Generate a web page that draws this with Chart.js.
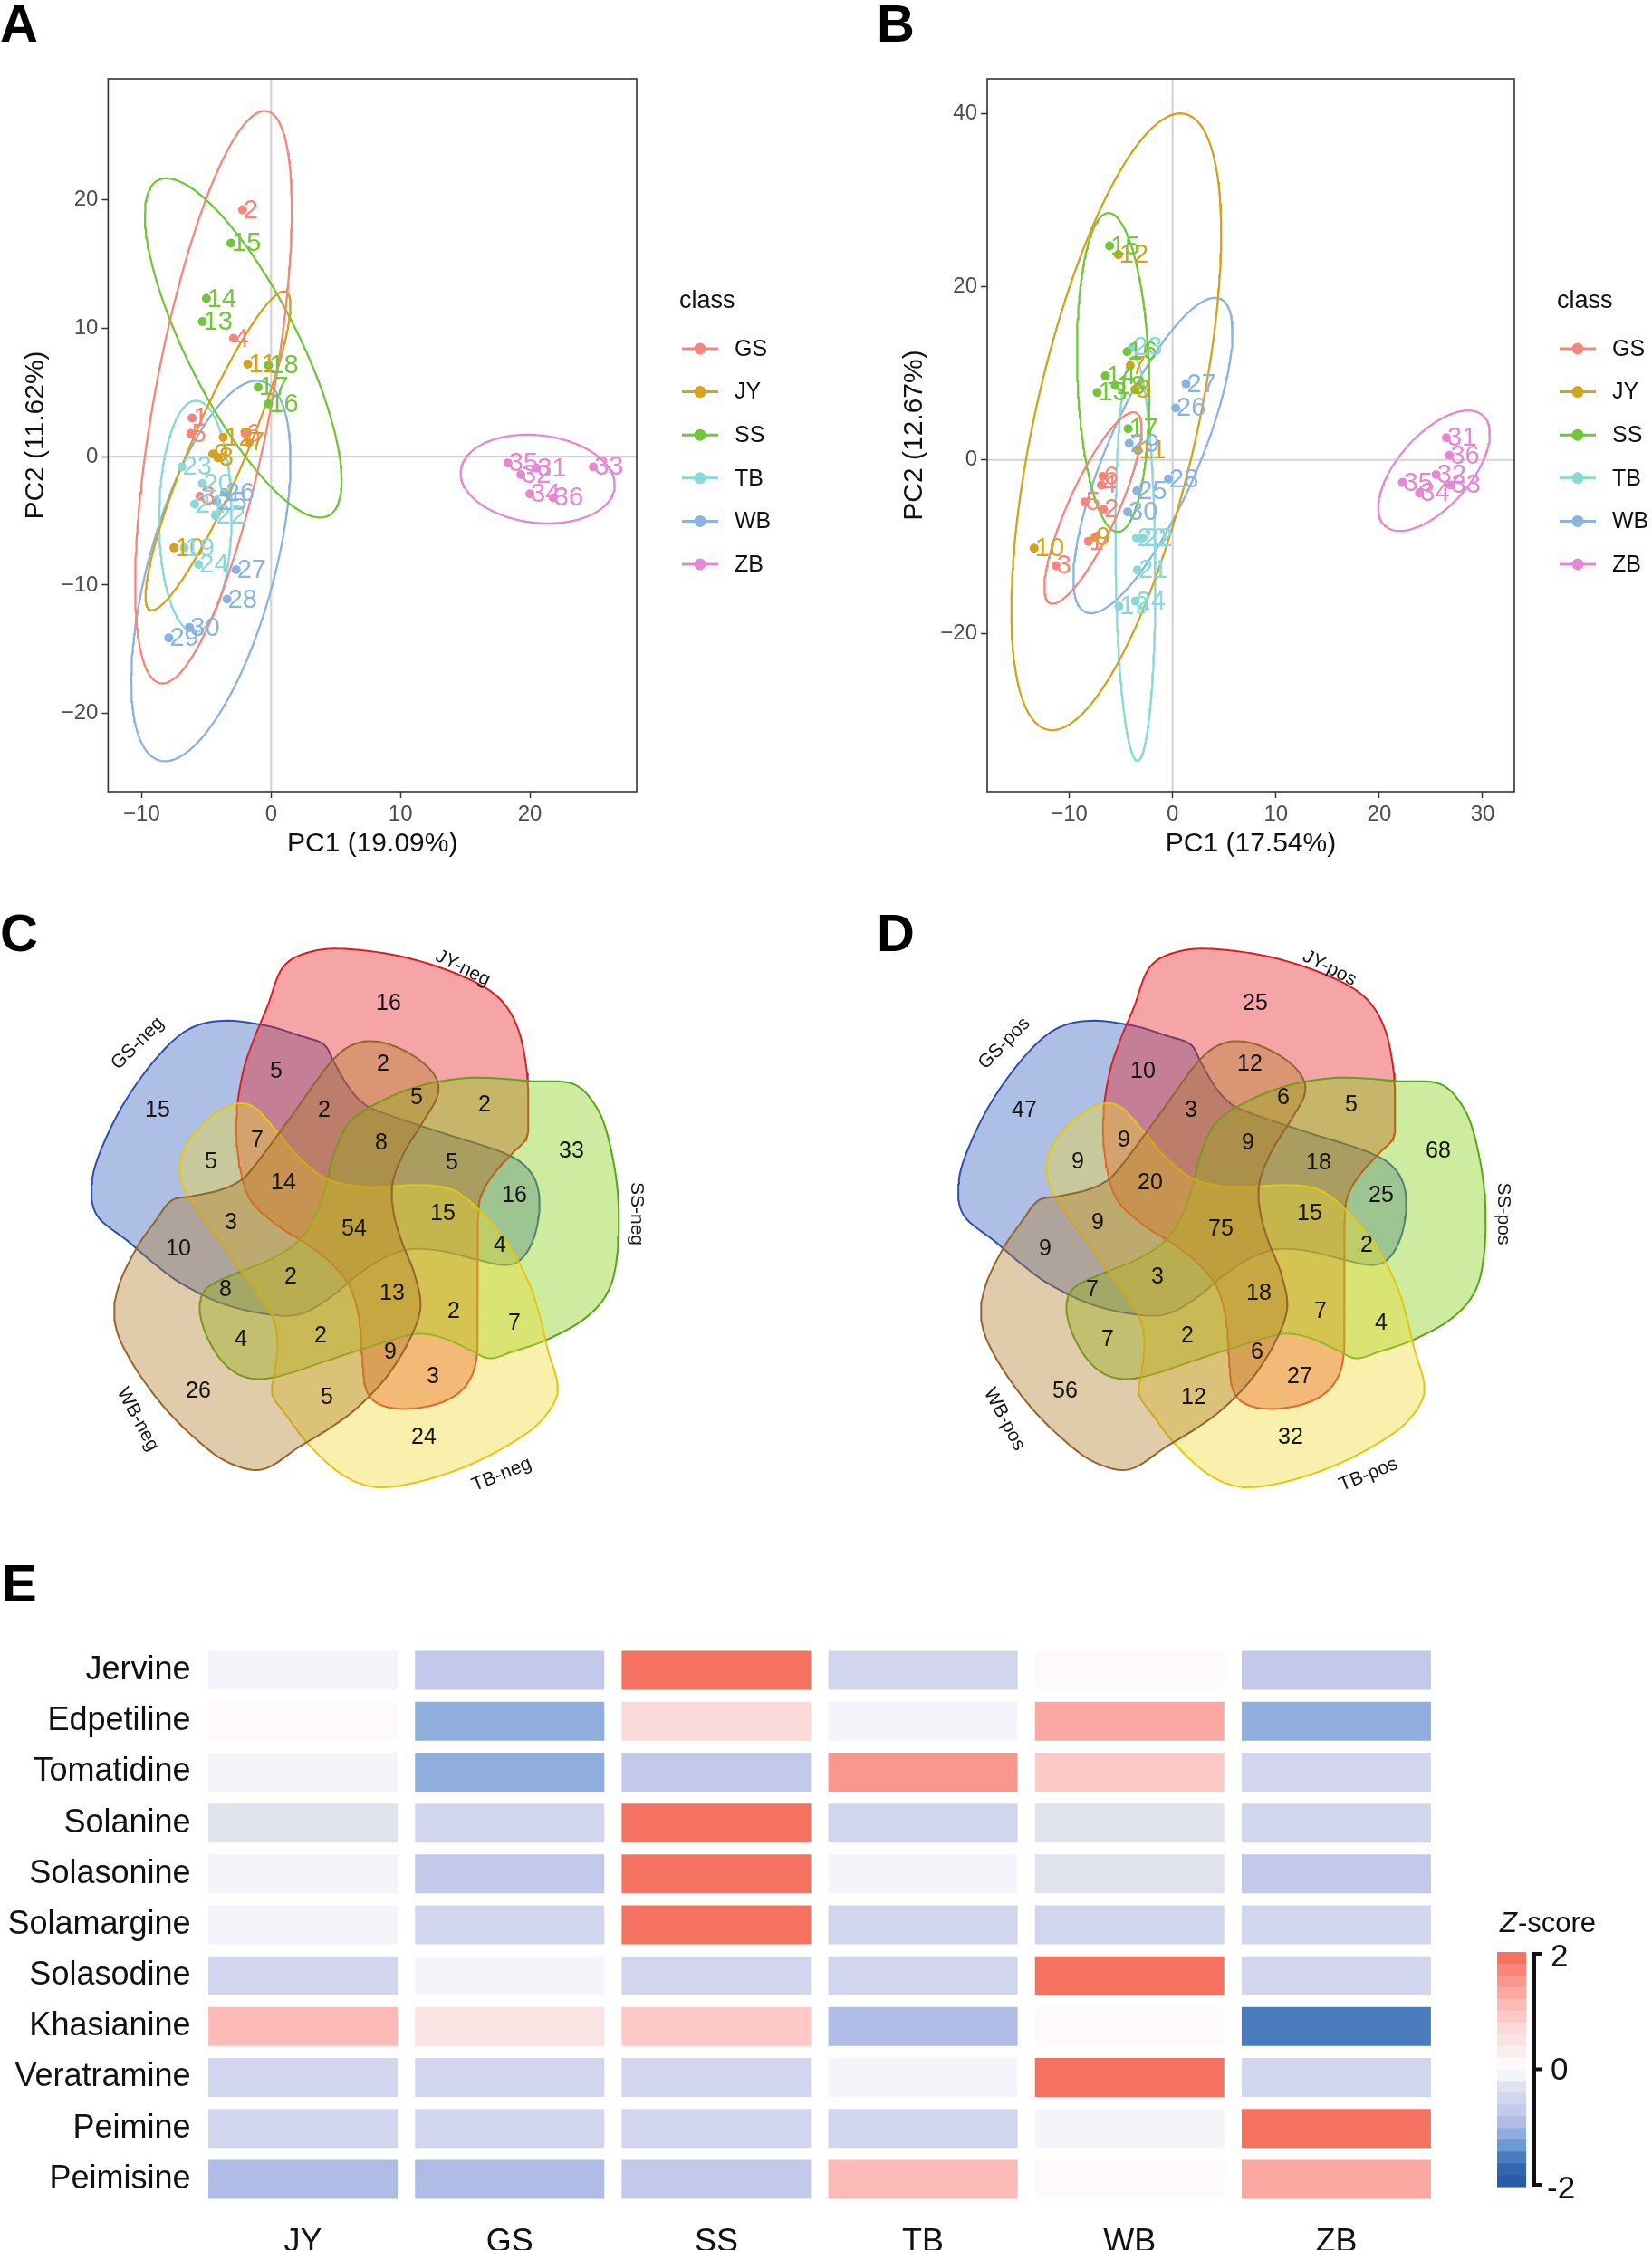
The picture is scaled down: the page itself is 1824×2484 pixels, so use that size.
<!DOCTYPE html>
<html><head><meta charset="utf-8">
<script src="https://cdn.jsdelivr.net/npm/chart.js@4.4.1/dist/chart.umd.min.js"></script>
<style>
html,body{margin:0;padding:0;background:#fff}
body{width:1824px;height:2484px;position:relative;overflow:hidden}
canvas{position:absolute}
.lt{position:absolute;font:bold 58px 'Liberation Sans',Arial,sans-serif;line-height:1;color:#000;z-index:5}
</style></head><body>
<div class="lt" style="left:0;top:-3px">A</div>
<div class="lt" style="left:968px;top:-3px">B</div>
<div class="lt" style="left:0;top:1001px">C</div>
<div class="lt" style="left:968px;top:1001px">D</div>
<div class="lt" style="left:2px;top:1719px">E</div>
<canvas id="cA" width="960" height="1000" style="left:0;top:0"></canvas>
<canvas id="cB" width="864" height="1000" style="left:960px;top:0"></canvas>
<canvas id="cC" width="960" height="700" style="left:0;top:1000px"></canvas>
<canvas id="cD" width="864" height="700" style="left:960px;top:1000px"></canvas>
<canvas id="cE" width="1824" height="764" style="left:0;top:1720px"></canvas>
<script>
const FF = "'Liberation Sans', Arial, Helvetica, sans-serif";
Chart.defaults.font.family = FF;
Chart.defaults.color = '#111';

/* ---------------- PCA data ---------------- */
const classes = ['GS','JY','SS','TB','WB','ZB'];
const sampleId = [1,2,3,4,5,6,7,8,9,10,11,12,13,14,15,16,17,18,19,20,21,22,23,24,25,26,27,28,29,30,31,32,33,34,35,36];
const sampleClass = ['GS','GS','GS','GS','GS','GS','JY','JY','JY','JY','JY','JY','SS','SS','SS','SS','SS','SS',
                     'TB','TB','TB','TB','TB','TB','WB','WB','WB','WB','WB','WB','ZB','ZB','ZB','ZB','ZB','ZB'];
// Panel A (negative mode)
const pcaA_PC1 = [-6.1,-2.2,-5.5,-2.9,-6.2,-2.0, -1.7,-4.1,-4.5,-7.5,-1.8,-3.7, -5.3,-5.0,-3.1,-0.2,-1.0,-0.2,
                  -6.7,-5.3,-5.9,-4.3,-6.9,-5.6, -4.2,-3.6,-2.7,-3.4,-7.9,-6.3, 20.5,19.3,24.9,20.0,18.3,21.8];
const pcaA_PC2 = [3.0,19.2,-3.1,9.2,1.8,1.8, 1.1,-0.1,0.2,-7.1,7.2,1.5, 10.5,12.3,16.6,4.1,5.4,7.1,
                  -7.1,-2.1,-3.7,-4.6,-0.8,-8.4, -3.5,-2.8,-8.8,-11.1,-14.1,-13.3, -0.9,-1.4,-0.8,-2.9,-0.5,-3.2];
// Panel B (positive mode)
const pcaB_PC1 = [-8.15,-6.7,-11.3,-6.9,-8.5,-6.75, -4.1,-3.65,-7.5,-13.4,-3.35,-5.25, -7.3,-6.5,-6.1,-4.4,-4.3,-5.55,
                  -5.2,-3.5,-3.4,-2.9,-3.9,-3.6, -3.45,0.3,1.3,-0.4,-4.2,-4.35, 26.5,25.5,26.9,23.9,22.25,26.8];
const pcaB_PC2 = [-9.4,-5.7,-12.2,-2.9,-4.85,-1.9, 10.9,8.1,-8.9,-10.2,1.1,23.7, 7.8,9.7,24.7,12.5,3.6,8.6,
                  -16.9,-9.0,-12.7,-9.0,13.0,-16.3, -3.56,6.0,8.8,-2.2,1.9,-6.0, 2.55,-1.7,-2.9,-3.8,-2.6,0.53];
// confidence ellipses: [centre x, centre y, x half-extent, y half-extent, x offset of top point]
const ellA = [[-4.45,4.62,6.05,22.27,3.95],[-4.1,0.45,5.6,12.4,5.1],[-2.15,8.45,7.6,13.2,-5.94],
              [-5.85,-4.66,2.8,9.0,0.05],[-4.65,-8.9,6.15,14.8,3.55],[20.6,-1.75,5.95,3.45,-0.8]];
const ellB = [[-7.7,-5.55,4.7,11.05,3.9],[-5.45,4.4,10.15,35.6,6.2],[-5.75,10.1,3.5,18.4,-0.45],
              [-3.6,-11.4,1.93,23.3,-0.2],[-1.9,0.5,7.7,18.2,6.0],[25.3,-1.25,5.4,6.95,3.3]];
const pcaColors = ['#F8847C','#D4A21C','#72C63A','#8AD9D9','#8AB3E2','#E587D3'];

/* ---------------- Venn data ---------------- */
const vennSets = ['GS','JY','SS','TB','WB'];
const vennNamesC = ['GS-neg','JY-neg','SS-neg','TB-neg','WB-neg'];
const vennNamesD = ['GS-pos','JY-pos','SS-pos','TB-pos','WB-pos'];
const vennCountsC = [16,15,5,2,2,5,2,7,5,8,33,5,14,16,15,3,54,4,10,2,8,13,2,7,4,2,9,3,26,5,24];
const vennCountsD = [25,47,10,12,3,6,5,9,9,9,68,18,20,25,15,9,75,2,9,3,7,18,7,4,7,2,6,27,56,12,32];
// layout: label anchor of each region (offset from diagram centre, y up)
const vennLabelPos = [[37,247],[-218,129],[-87,172],[31,180],[-34,129],[68,143],[143,135],[-108,96],[-159,72],[29,93],
  [239,84],[107,71],[-79,49],[176,35],[97,15],[-137,5],[-1,-2],[160,-20],[-195,-24],[-71,-55],[-143,-69],[41,-73],
  [109,-93],[176,-106],[-126,-124],[-38,-120],[39,-138],[86,-165],[-173,-181],[-31,-188],[76,-232]];
const vennNamePos = [[-240,203,-45],[119,286,27],[311,15,90],[162,-273,-22],[-240,-212,62]];
// outline template of one set (the JY shape); the others are the same shape turned by 72 degrees
const vennTemplate = [[-46,305],[-5,307],[56,298],[117,278],[158,254],[180,219],[190,170],[191,129],[190,100],[174,82],
  [154,60],[141,39],[136,15],[135,-60],[135,-136],[125,-171],[101,-191],[64,-200],[31,-197],[13,-181],[8,-144],[5,-104],
  [-5,-67],[-26,-40],[-54,-18],[-87,3],[-116,31],[-128,72],[-131,121],[-124,170],[-112,207],[-97,243],[-79,288]];
const vennRot = [72,0,-72,-144,144];
const vennScale = [0.955,1.0,0.965,0.96,0.955];
const vennFill = ['rgba(52,95,192,0.4)','rgba(230,30,30,0.4)','rgba(130,207,17,0.4)','rgba(237,217,47,0.4)','rgba(177,125,42,0.4)'];
const vennStroke = ['#2F4FA8','#D61F26','#57A619','#E2C812','#94652C'];

/* ---------------- Heatmap data ---------------- */
const hmRows = ['Jervine','Edpetiline','Tomatidine','Solanine','Solasonine','Solamargine','Solasodine','Khasianine','Veratramine','Peimine','Peimisine'];
const hmCols = ['JY','GS','SS','TB','WB','ZB'];
const z_JY = [-0.1,0.05,-0.1,-0.3,-0.1,-0.1,-0.5,1.05,-0.5,-0.5,-0.9];
const z_GS = [-0.7,-1.1,-1.1,-0.5,-0.7,-0.5,-0.1,0.5,-0.5,-0.5,-0.9];
const z_SS = [1.9,0.7,-0.7,1.9,1.9,1.9,-0.5,0.9,-0.5,-0.5,-0.7];
const z_TB = [-0.5,-0.1,1.5,-0.5,-0.1,-0.5,-0.5,-0.9,-0.1,-0.5,1.05];
const z_WB = [0.05,1.3,0.9,-0.3,-0.3,-0.5,1.9,0.05,1.9,-0.1,0.05];
const z_ZB = [-0.7,-1.1,-0.5,-0.5,-0.7,-0.5,-0.5,-1.5,-0.5,1.9,1.3];
const zPalette = ['#2A5DA8','#3366B1','#4C7CC0','#6C9BD2','#8FAEDD','#AEBCE6','#C2C9EA','#D2D5EE','#E0E2EE','#F4F4FA',
                  '#FDFAF9','#F9EEEE','#F9E3E3','#FCDADA','#FEC8C6','#FDBBB8','#FBA7A2','#F9978F','#F78579','#F4725F'];

/* ---------------- helpers ---------------- */
const fmtTick = v => v < 0 ? '\u2212' + Math.abs(v) : String(v);
function zColor(z){ let b = Math.floor((z + 2) / 0.2 + 1e-9); b = Math.max(0, Math.min(zPalette.length - 1, b)); return zPalette[b]; }
function smoothClosed(P, k){
  const out = [], n = P.length;
  for (let i = 0; i < n; i++){
    const p0 = P[(i-1+n)%n], p1 = P[i], p2 = P[(i+1)%n], p3 = P[(i+2)%n];
    for (let s = 0; s < k; s++){
      const t = s/k, t2 = t*t, t3 = t2*t;
      const f = (a,b,c,d) => 0.5*((2*b)+(-a+c)*t+(2*a-5*b+4*c-d)*t2+(-a+3*b-3*c+d)*t3);
      out.push([f(p0[0],p1[0],p2[0],p3[0]), f(p0[1],p1[1],p2[1],p3[1])]);
    }
  }
  out.push(out[0]);
  return out;
}

/* ---------------- PCA ---------------- */
const pcaPlugin = {
  id: 'pcaDecor',
  beforeDatasetsDraw(chart){
    const {ctx, chartArea: a, scales: {x, y}} = chart;
    ctx.save();
    ctx.beginPath(); ctx.rect(a.left, a.top, a.right - a.left, a.bottom - a.top); ctx.clip();
    ctx.strokeStyle = '#D3D3D3'; ctx.lineWidth = 2.2;
    const x0 = x.getPixelForValue(0), y0 = y.getPixelForValue(0);
    ctx.beginPath(); ctx.moveTo(x0, a.top); ctx.lineTo(x0, a.bottom); ctx.moveTo(a.left, y0); ctx.lineTo(a.right, y0); ctx.stroke();
    ctx.restore();
  },
  afterDatasetsDraw(chart){
    const {ctx, chartArea: a} = chart;
    ctx.save();
    ctx.font = '29px ' + FF; ctx.textAlign = 'left'; ctx.textBaseline = 'middle';
    chart.data.datasets.forEach((ds, i) => {
      if (ds.isEllipse) return;
      const meta = chart.getDatasetMeta(i);
      ctx.fillStyle = ds.backgroundColor;
      meta.data.forEach((el, j) => ctx.fillText(String(ds.ids[j]), el.x + 1, el.y + 1));
    });
    ctx.strokeStyle = '#333'; ctx.lineWidth = 1.6;
    ctx.strokeRect(a.left, a.top, a.right - a.left, a.bottom - a.top);
    ctx.restore();
  },
  afterDraw(chart){
    const o = chart.options.plugins.pcaDecor; const ctx = chart.ctx;
    ctx.save();
    ctx.fillStyle = '#111'; ctx.textAlign = 'left'; ctx.textBaseline = 'middle';
    ctx.font = '27px ' + FF; ctx.fillText('class', o.lx, 333);
    ctx.font = '25px ' + FF;
    classes.forEach((c, k) => {
      const yy = 385 + k * 47.6;
      ctx.strokeStyle = pcaColors[k]; ctx.lineWidth = 3;
      ctx.beginPath(); ctx.moveTo(o.lx + 3, yy); ctx.lineTo(o.lx + 43, yy); ctx.stroke();
      ctx.fillStyle = pcaColors[k]; ctx.beginPath(); ctx.arc(o.lx + 23, yy, 6.5, 0, 2*Math.PI); ctx.fill();
      ctx.fillStyle = '#111'; ctx.fillText(c, o.lx + 61, yy + 1);
    });
    ctx.restore();
  }
};

function pcaChart(id, pc1, pc2, ell, o){
  const datasets = [];
  classes.forEach((c, k) => {
    const idx = sampleClass.map((v, i) => v === c ? i : -1).filter(i => i >= 0);
    datasets.push({type:'scatter', label:c, data: idx.map(i => ({x: pc1[i], y: pc2[i]})), ids: idx.map(i => sampleId[i]),
      backgroundColor: pcaColors[k], borderColor: pcaColors[k], pointRadius: 5, pointHoverRadius: 5, pointBorderWidth: 0, order: 1});
  });
  classes.forEach((c, k) => {
    const [cx, cy, hw, hh, xt] = ell[k];
    const b = Math.sqrt(Math.max(hw*hw - xt*xt, 0));
    const pts = [];
    for (let s = 0; s <= 240; s++){ const t = 2*Math.PI*s/240; pts.push({x: cx + xt*Math.cos(t) + b*Math.sin(t), y: cy + hh*Math.cos(t)}); }
    datasets.push({type:'scatter', showLine:true, data: pts, borderColor: pcaColors[k], backgroundColor: pcaColors[k],
      borderWidth: 2.3, pointRadius: 0, pointHoverRadius: 0, fill: false, order: 2, isEllipse: true});
  });
  const axisCommon = {
    grid: {display:true, drawOnChartArea:false, drawTicks:true, tickLength:7, tickColor:'#333', tickWidth:1.5},
    border: {display:false}
  };
  return new Chart(document.getElementById(id), {
    type: 'scatter',
    data: {datasets},
    options: {
      responsive:false, animation:false, events:[],
      layout: {padding: {left:0, top:87, right:o.rp, bottom:46.6}},
      plugins: {legend:{display:false}, tooltip:{enabled:false}, pcaDecor:{lx:o.lx}},
      scales: {
        x: Object.assign({type:'linear', position:'bottom', min:o.xr[0], max:o.xr[1],
          afterBuildTicks: s => { s.ticks = o.xt.map(v => ({value:v})); },
          afterFit: s => { s.height = 79.4; },
          ticks: {callback: fmtTick, font:{size:24}, color:'#4D4D4D', padding:4, autoSkip:false, maxRotation:0},
          title: {display:true, text:o.xTitle, font:{size:30}, color:'#111', padding:{top:0, bottom:4}}}, axisCommon),
        y: Object.assign({type:'linear', position:'left', min:o.yr[0], max:o.yr[1],
          afterBuildTicks: s => { s.ticks = o.yt.map(v => ({value:v})); },
          afterFit: s => { s.width = o.yw; },
          ticks: {callback: fmtTick, font:{size:24}, color:'#4D4D4D', padding:4, autoSkip:false},
          title: {display:true, text:o.yTitle, font:{size:30}, color:'#111', padding:{top:o.ytp, bottom:0}}}, axisCommon)
      }
    },
    plugins: [pcaPlugin]
  });
}

pcaChart('cA', pcaA_PC1, pcaA_PC2, ellA, {xr:[-12.59, 28.25], yr:[-26.07, 29.39], xt:[-10,0,10,20], yt:[-20,-10,0,10,20],
  xTitle:'PC1 (19.09%)', yTitle:'PC2 (11.62%)', rp:257, yw:119.4, ytp:22, lx:750});
pcaChart('cB', pcaB_PC1, pcaB_PC2, ellB, {xr:[-17.94, 33.07], yr:[-38.3, 44.0], xt:[-10,0,10,20,30], yt:[-20,0,20,40],
  xTitle:'PC1 (17.54%)', yTitle:'PC2 (12.67%)', rp:152, yw:130, ytp:31.5, lx:759});

/* ---------------- Venn ---------------- */
const vennPlugin = {
  id: 'vennText',
  afterDatasetsDraw(chart){
    const o = chart.options.plugins.vennText; const {ctx, scales:{x, y}} = chart;
    ctx.save();
    ctx.fillStyle = '#151515'; ctx.textAlign = 'center'; ctx.textBaseline = 'middle';
    ctx.font = '25px ' + FF;
    o.counts.forEach((n, i) => {
      const p = vennLabelPos[i];
      ctx.fillText(String(n), x.getPixelForValue(p[0]), y.getPixelForValue(p[1]));
    });
    ctx.font = '21px ' + FF;
    o.names.forEach((nm, k) => {
      const p = vennNamePos[k];
      ctx.save();
      ctx.translate(x.getPixelForValue(p[0]), y.getPixelForValue(p[1]));
      ctx.rotate(p[2] * Math.PI / 180);
      ctx.fillText(nm, 0, 0);
      ctx.restore();
    });
    ctx.restore();
  }
};
function vennChart(id, counts, names, cx, cy, W, H){
  const base = smoothClosed(vennTemplate, 8);
  const datasets = vennSets.map((s, k) => {
    const a = vennRot[k] * Math.PI / 180, c = Math.cos(a), si = Math.sin(a), sc = vennScale[k];
    return {type:'line', label:s, data: base.map(([px, py]) => ({x: sc*(px*c - py*si), y: sc*(px*si + py*c)})),
      borderColor: vennStroke[k], backgroundColor: vennFill[k], borderWidth: 2, pointRadius: 0, pointHoverRadius: 0,
      fill: 'shape', tension: 0, order: 5 - k};
  });
  return new Chart(document.getElementById(id), {
    type: 'scatter',
    data: {datasets},
    options: {
      responsive:false, animation:false, events:[],
      layout: {padding: 0},
      plugins: {legend:{display:false}, tooltip:{enabled:false}, vennText:{counts, names}},
      scales: {
        x: {type:'linear', display:false, min:-cx, max:W - cx},
        y: {type:'linear', display:false, min:cy - H, max:cy}
      }
    },
    plugins: [vennPlugin]
  });
}
vennChart('cC', vennCountsC, vennNamesC, 392, 355, 960, 700);
vennChart('cD', vennCountsD, vennNamesD, 389, 355, 864, 700);

/* ---------------- Heatmap ---------------- */
const zByCol = [z_JY, z_GS, z_SS, z_TB, z_WB, z_ZB];
const hmLegend = {
  id: 'hmLegend',
  afterDraw(chart){
    const ctx = chart.ctx;
    const bx = 1653, bw = 32, by0 = 435, by1 = 694, n = zPalette.length, h = (by1 - by0) / n;
    ctx.save();
    for (let i = 0; i < n; i++){ ctx.fillStyle = zPalette[n - 1 - i]; ctx.fillRect(bx, by0 + i*h, bw, h + 0.6); }
    ctx.strokeStyle = '#111'; ctx.lineWidth = 4; ctx.lineCap = 'butt';
    const lx = 1694;
    ctx.beginPath(); ctx.moveTo(lx + 9, by0 + 2); ctx.lineTo(lx, by0 + 2); ctx.lineTo(lx, by1 - 2); ctx.lineTo(lx + 9, by1 - 2);
    const ym = (by0 + by1) / 2; ctx.moveTo(lx, ym); ctx.lineTo(lx + 9, ym); ctx.stroke();
    ctx.fillStyle = '#111'; ctx.textAlign = 'left'; ctx.textBaseline = 'middle'; ctx.font = '35px ' + FF;
    ctx.fillText('2', 1712, by0 + 6); ctx.fillText('0', 1712, ym + 2); ctx.fillText('-2', 1708, by1 + 3);
    ctx.font = 'italic 31px ' + FF; ctx.fillText('Z', 1656, 404);
    const zw = ctx.measureText('Z').width;
    ctx.font = '31px ' + FF; ctx.fillText('-score', 1656 + zw + 1, 404);
    ctx.restore();
  }
};
new Chart(document.getElementById('cE'), {
  type: 'bar',
  data: {labels: hmRows, datasets: hmCols.map((c, k) => ({label:c, data: hmRows.map(() => [k + 0.042, k + 0.958]),
    backgroundColor: zByCol[k].map(zColor), borderWidth: 0, barPercentage: 0.765, categoryPercentage: 1, grouped: false}))},
  options: {
    indexAxis: 'y', responsive:false, animation:false, events:[],
    layout: {padding: {left:0, top:96, right:234.5, bottom:0}},
    plugins: {legend:{display:false}, tooltip:{enabled:false}},
    scales: {
      x: {type:'linear', position:'bottom', min:0, max:6,
        afterBuildTicks: s => { s.ticks = hmCols.map((c, k) => ({value: k + 0.5})); },
        afterFit: s => { s.height = 50; },
        ticks: {callback: (v, i) => hmCols[i], font:{size:36}, color:'#111', padding:20, autoSkip:false, maxRotation:0},
        grid: {display:false, drawTicks:false}, border: {display:false}},
      y: {type:'category', position:'left',
        afterFit: s => { s.width = 220.5; },
        ticks: {font:{size:36}, color:'#111', padding:10, autoSkip:false},
        grid: {display:false, drawTicks:false}, border: {display:false}}
    }
  },
  plugins: [hmLegend]
});
</script>
</body></html>
